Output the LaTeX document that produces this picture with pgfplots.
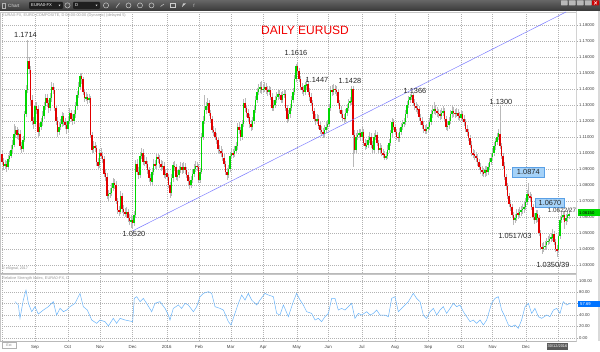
\documentclass[border=0pt]{standalone}
\usepackage{pgfplots}
\usepackage{pgfplotstable}
\pgfplotsset{compat=1.18}
\usepackage{fontspec}
\setmainfont{Liberation Sans}
\definecolor{upc}{RGB}{0,215,0}
\definecolor{dnc}{RGB}{225,0,0}
\definecolor{wick}{RGB}{185,185,185}
\definecolor{trend}{RGB}{125,125,255}
\definecolor{rsic}{RGB}{105,180,250}
\definecolor{boxblue}{RGB}{165,210,248}
\definecolor{boxedge}{RGB}{90,160,230}

\pgfplotstableread{
i o h l c
0 1.0990 1.1010 1.0920 1.0940
1 1.0940 1.0965 1.0895 1.0920
2 1.0920 1.0955 1.0900 1.0930
3 1.0930 1.0950 1.0880 1.0910
4 1.0910 1.0985 1.0895 1.0960
5 1.0960 1.1010 1.0940 1.0980
6 1.0980 1.1045 1.0965 1.1020
7 1.1020 1.1080 1.1000 1.1050
8 1.1050 1.1180 1.1035 1.1120
9 1.1120 1.1170 1.1095 1.1140
10 1.1140 1.1160 1.1085 1.1110
11 1.1110 1.1150 1.1080 1.1120
12 1.1120 1.1140 1.1020 1.1040
13 1.1040 1.1065 1.1000 1.1020
14 1.1020 1.1105 1.1005 1.1080
15 1.1080 1.1260 1.1065 1.1240
16 1.1240 1.1420 1.1225 1.1390
17 1.1390 1.1705 1.1370 1.1570
18 1.1570 1.1600 1.1490 1.1520
19 1.1520 1.1540 1.1300 1.1330
20 1.1330 1.1360 1.1170 1.1200
21 1.1200 1.1225 1.1150 1.1180
22 1.1180 1.1310 1.1160 1.1290
23 1.1290 1.1320 1.1240 1.1270
24 1.1270 1.1290 1.1100 1.1130
25 1.1130 1.1185 1.1105 1.1160
26 1.1160 1.1215 1.1140 1.1190
27 1.1190 1.1260 1.1170 1.1230
28 1.1230 1.1315 1.1210 1.1290
29 1.1290 1.1370 1.1270 1.1340
30 1.1340 1.1365 1.1285 1.1310
31 1.1310 1.1330 1.1250 1.1280
32 1.1280 1.1370 1.1260 1.1340
33 1.1340 1.1440 1.1320 1.1410
34 1.1410 1.1435 1.1365 1.1390
35 1.1390 1.1410 1.1260 1.1280
36 1.1280 1.1300 1.1175 1.1200
37 1.1200 1.1225 1.1095 1.1130
38 1.1130 1.1190 1.1110 1.1160
39 1.1160 1.1210 1.1140 1.1180
40 1.1180 1.1255 1.1160 1.1230
41 1.1230 1.1250 1.1170 1.1190
42 1.1190 1.1215 1.1145 1.1170
43 1.1170 1.1195 1.1120 1.1150
44 1.1150 1.1225 1.1130 1.1200
45 1.1200 1.1280 1.1180 1.1250
46 1.1250 1.1270 1.1190 1.1210
47 1.1210 1.1240 1.1175 1.1200
48 1.1200 1.1265 1.1180 1.1240
49 1.1240 1.1315 1.1220 1.1290
50 1.1290 1.1385 1.1270 1.1360
51 1.1360 1.1440 1.1340 1.1410
52 1.1410 1.1495 1.1390 1.1480
53 1.1480 1.1500 1.1430 1.1460
54 1.1460 1.1475 1.1360 1.1380
55 1.1380 1.1400 1.1315 1.1340
56 1.1340 1.1380 1.1320 1.1350
57 1.1350 1.1370 1.1305 1.1330
58 1.1330 1.1365 1.1310 1.1340
59 1.1340 1.1355 1.1090 1.1110
60 1.1110 1.1130 1.0995 1.1020
61 1.1020 1.1070 1.1000 1.1040
62 1.1040 1.1065 1.1005 1.1030
63 1.1030 1.1050 1.0915 1.0940
64 1.0940 1.0965 1.0895 1.0920
65 1.0920 1.1025 1.0905 1.1000
66 1.1000 1.1030 1.0960 1.0980
67 1.0980 1.1005 1.0935 1.0960
68 1.0960 1.0980 1.0850 1.0870
69 1.0870 1.0895 1.0825 1.0850
70 1.0850 1.0870 1.0710 1.0730
71 1.0730 1.0770 1.0700 1.0740
72 1.0740 1.0780 1.0715 1.0750
73 1.0750 1.0810 1.0730 1.0780
74 1.0780 1.0840 1.0760 1.0810
75 1.0810 1.0835 1.0775 1.0800
76 1.0800 1.0820 1.0680 1.0700
77 1.0700 1.0715 1.0615 1.0640
78 1.0640 1.0670 1.0605 1.0630
79 1.0630 1.0760 1.0615 1.0730
80 1.0730 1.0745 1.0625 1.0650
81 1.0650 1.0675 1.0605 1.0630
82 1.0630 1.0655 1.0595 1.0620
83 1.0620 1.0660 1.0600 1.0630
84 1.0630 1.0650 1.0570 1.0590
85 1.0590 1.0615 1.0545 1.0570
86 1.0570 1.0610 1.0527 1.0580
87 1.0580 1.0605 1.0530 1.0560
88 1.0560 1.0635 1.0540 1.0610
89 1.0610 1.0955 1.0590 1.0930
90 1.0930 1.0960 1.0860 1.0880
91 1.0880 1.0910 1.0835 1.0860
92 1.0860 1.1005 1.0840 1.0980
93 1.0980 1.1030 1.0960 1.1000
94 1.1000 1.1020 1.0920 1.0940
95 1.0940 1.0985 1.0915 1.0950
96 1.0950 1.0975 1.0905 1.0930
97 1.0930 1.0950 1.0870 1.0890
98 1.0890 1.0910 1.0820 1.0840
99 1.0840 1.0865 1.0795 1.0820
100 1.0820 1.0905 1.0800 1.0880
101 1.0880 1.0960 1.0860 1.0930
102 1.0930 1.0955 1.0895 1.0920
103 1.0920 1.0995 1.0900 1.0970
104 1.0970 1.1000 1.0935 1.0960
105 1.0960 1.0985 1.0905 1.0930
106 1.0930 1.0955 1.0885 1.0910
107 1.0910 1.0950 1.0890 1.0920
108 1.0920 1.0940 1.0840 1.0860
109 1.0860 1.0900 1.0835 1.0870
110 1.0870 1.0895 1.0825 1.0850
111 1.0850 1.0870 1.0780 1.0800
112 1.0800 1.0820 1.0715 1.0750
113 1.0750 1.0865 1.0730 1.0840
114 1.0840 1.0945 1.0820 1.0920
115 1.0920 1.0950 1.0885 1.0910
116 1.0910 1.0930 1.0830 1.0850
117 1.0850 1.0890 1.0825 1.0860
118 1.0860 1.0915 1.0840 1.0890
119 1.0890 1.0940 1.0870 1.0910
120 1.0910 1.0935 1.0865 1.0890
121 1.0890 1.0940 1.0870 1.0910
122 1.0910 1.0935 1.0865 1.0890
123 1.0890 1.0910 1.0840 1.0860
124 1.0860 1.0880 1.0800 1.0820
125 1.0820 1.0845 1.0775 1.0800
126 1.0800 1.0855 1.0780 1.0830
127 1.0830 1.0895 1.0810 1.0870
128 1.0870 1.0930 1.0850 1.0900
129 1.0900 1.0950 1.0880 1.0920
130 1.0920 1.0945 1.0885 1.0910
131 1.0910 1.0930 1.0810 1.0830
132 1.0830 1.0905 1.0810 1.0880
133 1.0880 1.1125 1.0865 1.1100
134 1.1100 1.1230 1.1080 1.1200
135 1.1200 1.1360 1.1180 1.1270
136 1.1270 1.1320 1.1240 1.1290
137 1.1290 1.1340 1.1265 1.1310
138 1.1310 1.1330 1.1230 1.1250
139 1.1250 1.1270 1.1185 1.1210
140 1.1210 1.1230 1.1120 1.1140
141 1.1140 1.1170 1.1105 1.1130
142 1.1130 1.1155 1.1080 1.1100
143 1.1100 1.1125 1.1055 1.1080
144 1.1080 1.1100 1.1000 1.1020
145 1.1020 1.1050 1.0990 1.1010
146 1.1010 1.1040 1.0975 1.1000
147 1.1000 1.1025 1.0950 1.0970
148 1.0970 1.0990 1.0910 1.0930
149 1.0930 1.0950 1.0860 1.0880
150 1.0880 1.0905 1.0830 1.0860
151 1.0860 1.0925 1.0840 1.0900
152 1.0900 1.1005 1.0880 1.0980
153 1.0980 1.1030 1.0960 1.1000
154 1.1000 1.1025 1.0965 1.0990
155 1.0990 1.1040 1.0970 1.1010
156 1.1010 1.1065 1.0990 1.1040
157 1.1040 1.1185 1.1020 1.1160
158 1.1160 1.1190 1.1115 1.1140
159 1.1140 1.1160 1.1075 1.1100
160 1.1100 1.1205 1.1080 1.1180
161 1.1180 1.1335 1.1160 1.1310
162 1.1310 1.1340 1.1255 1.1280
163 1.1280 1.1300 1.1225 1.1250
164 1.1250 1.1270 1.1195 1.1220
165 1.1220 1.1240 1.1155 1.1180
166 1.1180 1.1205 1.1135 1.1160
167 1.1160 1.1225 1.1140 1.1200
168 1.1200 1.1295 1.1180 1.1270
169 1.1270 1.1355 1.1250 1.1330
170 1.1330 1.1405 1.1310 1.1380
171 1.1380 1.1430 1.1360 1.1400
172 1.1400 1.1440 1.1375 1.1410
173 1.1410 1.1450 1.1365 1.1390
174 1.1390 1.1430 1.1370 1.1400
175 1.1400 1.1440 1.1380 1.1410
176 1.1410 1.1435 1.1370 1.1390
177 1.1390 1.1415 1.1355 1.1380
178 1.1380 1.1420 1.1360 1.1390
179 1.1390 1.1410 1.1330 1.1350
180 1.1350 1.1370 1.1260 1.1280
181 1.1280 1.1330 1.1260 1.1300
182 1.1300 1.1355 1.1280 1.1330
183 1.1330 1.1380 1.1310 1.1350
184 1.1350 1.1400 1.1330 1.1370
185 1.1370 1.1395 1.1335 1.1360
186 1.1360 1.1380 1.1310 1.1330
187 1.1330 1.1385 1.1310 1.1360
188 1.1360 1.1400 1.1340 1.1370
189 1.1370 1.1390 1.1260 1.1280
190 1.1280 1.1300 1.1185 1.1210
191 1.1210 1.1265 1.1190 1.1240
192 1.1240 1.1305 1.1220 1.1280
193 1.1280 1.1355 1.1260 1.1330
194 1.1330 1.1405 1.1310 1.1380
195 1.1380 1.1485 1.1360 1.1460
196 1.1460 1.1555 1.1440 1.1540
197 1.1540 1.1560 1.1485 1.1510
198 1.1510 1.1530 1.1440 1.1460
199 1.1460 1.1480 1.1390 1.1410
200 1.1410 1.1435 1.1365 1.1390
201 1.1390 1.1415 1.1355 1.1380
202 1.1380 1.1445 1.1360 1.1420
203 1.1420 1.1460 1.1400 1.1430
204 1.1430 1.1450 1.1360 1.1380
205 1.1380 1.1405 1.1325 1.1350
206 1.1350 1.1370 1.1290 1.1310
207 1.1310 1.1330 1.1240 1.1260
208 1.1260 1.1280 1.1190 1.1210
209 1.1210 1.1240 1.1175 1.1200
210 1.1200 1.1240 1.1180 1.1210
211 1.1210 1.1235 1.1150 1.1170
212 1.1170 1.1190 1.1115 1.1140
213 1.1140 1.1165 1.1105 1.1130
214 1.1130 1.1155 1.1095 1.1120
215 1.1120 1.1170 1.1100 1.1140
216 1.1140 1.1190 1.1120 1.1160
217 1.1160 1.1205 1.1140 1.1180
218 1.1180 1.1305 1.1160 1.1280
219 1.1280 1.1415 1.1260 1.1390
220 1.1390 1.1420 1.1355 1.1380
221 1.1380 1.1430 1.1360 1.1400
222 1.1400 1.1425 1.1365 1.1390
223 1.1390 1.1415 1.1355 1.1380
224 1.1380 1.1400 1.1290 1.1310
225 1.1310 1.1330 1.1250 1.1270
226 1.1270 1.1295 1.1215 1.1240
227 1.1240 1.1265 1.1195 1.1220
228 1.1220 1.1245 1.1185 1.1210
229 1.1210 1.1275 1.1190 1.1250
230 1.1250 1.1305 1.1230 1.1280
231 1.1280 1.1335 1.1260 1.1310
232 1.1310 1.1350 1.1290 1.1320
233 1.1320 1.1420 1.1300 1.1400
234 1.1400 1.1415 1.0910 1.1110
235 1.1110 1.1140 1.0990 1.1020
236 1.1020 1.1125 1.1000 1.1100
237 1.1100 1.1140 1.1080 1.1110
238 1.1110 1.1150 1.1090 1.1120
239 1.1120 1.1145 1.1075 1.1100
240 1.1100 1.1160 1.1080 1.1130
241 1.1130 1.1150 1.1040 1.1060
242 1.1060 1.1085 1.1015 1.1040
243 1.1040 1.1080 1.1020 1.1050
244 1.1050 1.1105 1.1030 1.1080
245 1.1080 1.1130 1.1060 1.1100
246 1.1100 1.1120 1.1030 1.1050
247 1.1050 1.1075 1.0995 1.1020
248 1.1020 1.1125 1.1000 1.1100
249 1.1100 1.1140 1.1080 1.1110
250 1.1110 1.1130 1.1040 1.1060
251 1.1060 1.1080 1.1000 1.1020
252 1.1020 1.1060 1.1000 1.1030
253 1.1030 1.1050 1.0980 1.1000
254 1.1000 1.1025 1.0965 1.0990
255 1.0990 1.1010 1.0955 1.0970
256 1.0970 1.1005 1.0955 1.0980
257 1.0980 1.1045 1.0960 1.1020
258 1.1020 1.1085 1.1000 1.1060
259 1.1060 1.1145 1.1040 1.1120
260 1.1120 1.1215 1.1100 1.1190
261 1.1190 1.1210 1.1140 1.1160
262 1.1160 1.1180 1.1110 1.1130
263 1.1130 1.1150 1.1080 1.1100
264 1.1100 1.1125 1.1065 1.1090
265 1.1090 1.1155 1.1070 1.1130
266 1.1130 1.1185 1.1110 1.1160
267 1.1160 1.1205 1.1140 1.1180
268 1.1180 1.1220 1.1160 1.1190
269 1.1190 1.1265 1.1170 1.1240
270 1.1240 1.1325 1.1220 1.1300
271 1.1300 1.1355 1.1280 1.1330
272 1.1330 1.1370 1.1310 1.1350
273 1.1350 1.1375 1.1330 1.1360
274 1.1360 1.1370 1.1290 1.1310
275 1.1310 1.1335 1.1265 1.1290
276 1.1290 1.1315 1.1255 1.1280
277 1.1280 1.1305 1.1245 1.1270
278 1.1270 1.1290 1.1200 1.1220
279 1.1220 1.1245 1.1175 1.1200
280 1.1200 1.1225 1.1150 1.1170
281 1.1170 1.1195 1.1125 1.1150
282 1.1150 1.1175 1.1115 1.1140
283 1.1140 1.1180 1.1115 1.1150
284 1.1150 1.1190 1.1125 1.1160
285 1.1160 1.1215 1.1140 1.1190
286 1.1190 1.1265 1.1170 1.1240
287 1.1240 1.1290 1.1220 1.1260
288 1.1260 1.1320 1.1240 1.1270
289 1.1270 1.1300 1.1235 1.1260
290 1.1260 1.1285 1.1225 1.1250
291 1.1250 1.1275 1.1215 1.1240
292 1.1240 1.1265 1.1205 1.1230
293 1.1230 1.1280 1.1210 1.1250
294 1.1250 1.1290 1.1230 1.1260
295 1.1260 1.1280 1.1190 1.1210
296 1.1210 1.1230 1.1140 1.1160
297 1.1160 1.1200 1.1135 1.1170
298 1.1170 1.1225 1.1150 1.1200
299 1.1200 1.1265 1.1180 1.1240
300 1.1240 1.1290 1.1220 1.1260
301 1.1260 1.1285 1.1225 1.1250
302 1.1250 1.1275 1.1215 1.1240
303 1.1240 1.1280 1.1220 1.1250
304 1.1250 1.1275 1.1205 1.1230
305 1.1230 1.1255 1.1195 1.1220
306 1.1220 1.1265 1.1200 1.1240
307 1.1240 1.1260 1.1190 1.1210
308 1.1210 1.1235 1.1165 1.1190
309 1.1190 1.1210 1.1130 1.1150
310 1.1150 1.1175 1.1105 1.1130
311 1.1130 1.1150 1.1070 1.1090
312 1.1090 1.1110 1.1030 1.1050
313 1.1050 1.1070 1.0980 1.1000
314 1.1000 1.1025 1.0965 1.0990
315 1.0990 1.1015 1.0955 1.0980
316 1.0980 1.1005 1.0945 1.0970
317 1.0970 1.0990 1.0920 1.0940
318 1.0940 1.0960 1.0890 1.0910
319 1.0910 1.0935 1.0865 1.0890
320 1.0890 1.0915 1.0855 1.0880
321 1.0880 1.0905 1.0845 1.0870
322 1.0870 1.0915 1.0850 1.0890
323 1.0890 1.0915 1.0855 1.0880
324 1.0880 1.0935 1.0860 1.0910
325 1.0910 1.0965 1.0890 1.0940
326 1.0940 1.0995 1.0920 1.0970
327 1.0970 1.1025 1.0950 1.1000
328 1.1000 1.1065 1.0980 1.1040
329 1.1040 1.1095 1.1020 1.1070
330 1.1070 1.1125 1.1050 1.1100
331 1.1100 1.1150 1.1080 1.1120
332 1.1120 1.1300 1.1020 1.1040
333 1.1040 1.1060 1.0960 1.0980
334 1.0980 1.1000 1.0900 1.0920
335 1.0920 1.0940 1.0830 1.0850
336 1.0850 1.0870 1.0770 1.0790
337 1.0790 1.0810 1.0710 1.0730
338 1.0730 1.0750 1.0660 1.0680
339 1.0680 1.0705 1.0635 1.0660
340 1.0660 1.0680 1.0590 1.0610
341 1.0610 1.0630 1.0545 1.0580
342 1.0580 1.0620 1.0560 1.0590
343 1.0590 1.0645 1.0570 1.0620
344 1.0620 1.0650 1.0585 1.0610
345 1.0610 1.0660 1.0590 1.0630
346 1.0630 1.0670 1.0605 1.0640
347 1.0640 1.0680 1.0615 1.0650
348 1.0650 1.0690 1.0625 1.0660
349 1.0660 1.0715 1.0640 1.0690
350 1.0690 1.0765 1.0670 1.0740
351 1.0740 1.0810 1.0705 1.0730
352 1.0730 1.0755 1.0695 1.0720
353 1.0720 1.0740 1.0640 1.0660
354 1.0660 1.0680 1.0580 1.0600
355 1.0600 1.0625 1.0555 1.0580
356 1.0580 1.0645 1.0560 1.0620
357 1.0620 1.0640 1.0570 1.0590
358 1.0590 1.0610 1.0480 1.0500
359 1.0500 1.0520 1.0390 1.0410
360 1.0410 1.0435 1.0370 1.0400
361 1.0400 1.0440 1.0380 1.0410
362 1.0410 1.0450 1.0390 1.0420
363 1.0420 1.0465 1.0400 1.0440
364 1.0440 1.0480 1.0420 1.0450
365 1.0450 1.0490 1.0430 1.0460
366 1.0460 1.0500 1.0440 1.0470
367 1.0470 1.0520 1.0450 1.0490
368 1.0490 1.0510 1.0420 1.0440
369 1.0440 1.0460 1.0380 1.0400
370 1.0400 1.0425 1.0345 1.0390
371 1.0390 1.0505 1.0370 1.0480
372 1.0480 1.0605 1.0460 1.0580
373 1.0580 1.0630 1.0560 1.0600
374 1.0600 1.0635 1.0580 1.0610
375 1.0610 1.0630 1.0520 1.0570
376 1.0570 1.0620 1.0550 1.0590
377 1.0590 1.0640 1.0570 1.0610
378 1.0610 1.0645 1.0585 1.0615
}\ohlc

\pgfplotstableread{
i v
8.7 63.4
10.9 57.6
12 34.3
14.2 66.3
16 83.7
17.6 60.5
19.8 45.9
22 54.7
24.2 41.9
27.6 48.8
30.9 54.7
34.2 63.4
36.4 40.1
38.7 51.7
40.9 45.9
43.1 48.8
45.3 54.7
48.7 60.5
52 77.9
54.2 54.7
56.9 48.8
59.8 31.4
63.1 25.6
65.3 31.4
68.7 28.5
70.9 20.9
74.2 34.3
76.4 25.6
78.7 34.3
82 31.4
84.2 30.2
87.1 28.5
88.2 69.2
89.8 72.1
92 63.4
94.2 69.2
96.4 60.5
99.8 45.9
102 60.5
105.3 63.4
108.7 51.7
110.9 40.1
112 31.4
114.2 51.7
117.6 57.6
119.8 51.7
122 60.5
124.2 57.6
127.6 45.9
129.8 54.7
132 72.1
134.2 77.9
137.6 80.8
139.8 77.9
142 54.7
145.3 51.7
147.6 48.8
150.9 28.5
152.7 22.7
155.3 43
157.6 60.5
159.8 75
162 66.3
164.2 77.9
166.4 66.3
169.8 57.6
172 66.3
175.3 77.9
177.6 75
180.9 72.1
183.1 43
185.3 40.1
187.6 57.6
190.9 37.2
194.2 63.4
196.4 77.9
198.7 66.3
200.9 57.6
203.1 45.9
206.4 43
208.7 31.4
210.9 34.3
213.1 28.5
215.3 37.2
217.6 43
219.8 69.2
222 69.2
224.2 48.8
226.4 51.7
228.7 48.8
230.9 54.7
233.1 60.5
235.3 34.3
237.6 43
239.8 40.1
243.1 45.9
245.3 40.1
247.6 43
249.8 48.8
252 40.1
255.3 40.1
257.6 37.2
259.8 69.2
262 72.1
264.2 45.9
266.4 51.7
268.7 57.6
270.9 63.4
274.2 77.9
276.4 69.2
278.7 63.4
280.9 40.1
283.1 34.3
285.3 45.9
287.6 51.7
289.8 40.1
292 48.8
294.2 54.7
296.4 43
298.7 51.7
300.9 60.5
303.1 54.7
305.3 57.6
307.6 45.9
309.8 37.2
312 28.5
314.2 31.4
316.4 25.6
318.7 31.4
320.9 22.7
323.1 31.4
326.4 60.5
328.7 69.2
330.9 72.1
333.1 48.8
335.3 37.2
337.6 22.7
339.8 19.8
342 22.7
344.2 16.9
346.4 31.4
348.7 54.7
350.9 60.5
353.1 43
355.3 51.7
357.6 37.2
359.8 34.3
363.1 40.1
365.3 37.2
367.6 48.8
369.8 51.7
372 43
374.2 63.4
376.4 57.6
378.7 60.5
}\rsi

\begin{document}
\begin{tikzpicture}[x=1pt,y=1pt]
\fill[white] (0,0) rectangle (600,351);

% ---------- main price panel ----------
\begin{axis}[
  at={(0pt,78pt)}, anchor=south west, scale only axis,
  width=576pt, height=261pt,
  xmin=-1.3333, xmax=382.6667, ymin=1.0248125, ymax=1.1879375,
  axis line style={gray!45, line width=0.4pt},
  xtick={0.33,22,43.8,65.3,87.1,109.8,131.3,152.5,174.2,196.5,217.5,239.8,262,284.2,305.8,327.1,349.3,370.9},
  xticklabels={}, x tick style={draw=none},
  ytick={1.03,1.04,1.05,1.06,1.07,1.08,1.09,1.10,1.11,1.12,1.13,1.14,1.15,1.16,1.17,1.18},
  scaled y ticks=false,
  yticklabel pos=right, ytick pos=right,
  y tick style={gray!70, line width=0.3pt}, major tick length=2pt, tick align=outside,
  yticklabel style={font=\fontsize{4.2}{5}\selectfont, text=black!75, inner sep=1pt,
    /pgf/number format/fixed, /pgf/number format/fixed zerofill,
    /pgf/number format/precision=5, /pgf/number format/assume math mode=true},
  grid=major, major grid style={gray!60, line width=0.35pt, dash pattern=on 1pt off 1pt},
]
% wicks
\addplot[draw=none, forget plot, error bars/.cd, y dir=both, y explicit, error mark=none,
  error bar style={draw=wick, solid, line width=0.6pt}]
  table[x=i, y expr={(\thisrow{h}+\thisrow{l})/2}, y error expr={(\thisrow{h}-\thisrow{l})/2}] {\ohlc};
% up bodies
\addplot[draw=none, forget plot, restrict expr to domain={\thisrow{c}-\thisrow{o}}{0:1},
  error bars/.cd, y dir=both, y explicit, error mark=none,
  error bar style={draw=upc, solid, line width=1.15pt}]
  table[x=i, y expr={(\thisrow{o}+\thisrow{c})/2}, y error expr={max(abs(\thisrow{c}-\thisrow{o})/2,0.00025)}] {\ohlc};
% down bodies
\addplot[draw=none, forget plot, restrict expr to domain={\thisrow{c}-\thisrow{o}}{-1:-0.00001},
  error bars/.cd, y dir=both, y explicit, error mark=none,
  error bar style={draw=dnc, solid, line width=1.15pt}]
  table[x=i, y expr={(\thisrow{o}+\thisrow{c})/2}, y error expr={max(abs(\thisrow{c}-\thisrow{o})/2,0.00025)}] {\ohlc};
% trend line
\addplot[trend, line width=0.5pt, forget plot] coordinates {(87.3,1.05125) (376,1.18794)};
\end{axis}

% ---------- RSI panel ----------
\begin{axis}[
  at={(0pt,10pt)}, anchor=south west, scale only axis,
  width=576pt, height=67pt,
  xmin=-1.3333, xmax=382.6667, ymin=-5.24, ymax=111.7,
  axis line style={gray!45, line width=0.4pt},
  xtick={0.33,22,43.8,65.3,87.1,109.8,131.3,152.5,174.2,196.5,217.5,239.8,262,284.2,305.8,327.1,349.3,370.9},
  xticklabels={,Sep,Oct,Nov,Dec,2016,Feb,Mar,Apr,May,Jun,Jul,Aug,Sep,Oct,Nov,Dec,},
  x tick style={draw=none},
  xticklabel style={font=\fontsize{4.4}{5}\selectfont, text=black!75, inner sep=0pt, anchor=center, yshift=-4pt},
  ytick={0,20,40,60,80,100},
  yticklabel pos=right, ytick pos=right,
  y tick style={gray!70, line width=0.3pt}, major tick length=2pt, tick align=outside,
  yticklabel style={font=\fontsize{4.2}{5}\selectfont, text=black!75, inner sep=1pt,
    /pgf/number format/fixed, /pgf/number format/fixed zerofill,
    /pgf/number format/precision=2, /pgf/number format/assume math mode=true},
  grid=major, major grid style={gray!60, line width=0.35pt, dash pattern=on 1pt off 1pt},
]
\addplot[rsic, line width=0.5pt, forget plot] table[x=i, y=v] {\rsi};
\end{axis}

% ---------- frame pieces ----------
\draw[gray!55, line width=0.8pt] (0,77.5) -- (576,77.5);
\draw[gray!35, line width=1.4pt] (576.7,10) -- (576.7,340);
\fill[gray!30] (598,10) rectangle (600,340);
\draw[gray!55, line width=0.5pt] (0,10) -- (576,10);

% ---------- toolbar ----------
\shade[top color=black!60, bottom color=black!78] (0,340) rectangle (600,351);
\node[font=\fontsize{4.6}{5}\selectfont, text=white!85!black, anchor=west, inner sep=0pt] at (8,345.5) {Chart};
\draw[white!70!black, line width=0.4pt] (2,343) rectangle (5.5,348);
\fill[black!88, rounded corners=0.8pt] (29,342.2) rectangle (63,349);
\node[font=\fontsize{4.2}{5}\selectfont, text=white, anchor=west, inner sep=0pt] at (31,345.6) {EURA0-FX};
\fill[white!80!black] (58.5,346.3) -- (60.5,346.3) -- (59.5,344.8) -- cycle;
\draw[white!80!black, line width=0.5pt] (67.5,345.6) circle (2.6pt);
\fill[black!88, rounded corners=0.8pt] (73,342.2) rectangle (100,349);
\node[font=\fontsize{4.2}{5}\selectfont, text=white, anchor=west, inner sep=0pt] at (75,345.6) {D};
\fill[white!80!black] (95.5,346.3) -- (97.5,346.3) -- (96.5,344.8) -- cycle;
\draw[white!80!black, line width=0.5pt] (106,345.6) circle (2.6pt);
\draw[white!80!black, line width=0.5pt] (116,343.3) -- (119.5,348);
\draw[white!80!black, line width=0.5pt] (128.5,345.6) circle (2.5pt);
\draw[white!80!black, line width=0.5pt] (140,345.6) circle (2.5pt);
\draw[white!80!black, line width=0.5pt] (151.5,345.6) circle (2.5pt);
\draw[white!80!black, line width=0.5pt] (160.5,344.5) -- (164,347);
\draw[white!80!black, line width=0.5pt] (170.5,343.5) rectangle (175,347.8);
\fill[white!80!black] (182,344) -- (186,347.5) -- (183,347.5) -- cycle;
\node[font=\fontsize{4.6}{5}\selectfont, text=white!80!black, inner sep=0pt] at (194,345.6) {f};
\foreach \bx in {561,569,577,585}{\fill[gray!55, rounded corners=0.5pt] (\bx,345.6) rectangle ++(6.5,5);}
\fill[red!80!black, rounded corners=0.5pt] (592,345.6) rectangle (599,350.6);
\draw[white, line width=0.5pt] (594,346.6) -- (597,349.6) (594,349.6) -- (597,346.6);

% ---------- small panel texts ----------
\node[font=\fontsize{3.9}{4.5}\selectfont, text=black!40, anchor=west, inner sep=0pt] at (2,336)
  {EURA0-FX, EURO COMPOSITE, D 00:00-00:00 (Dynamic) (delayed 5)};
\node[font=\fontsize{3.6}{4.5}\selectfont, text=black!45, anchor=west, inner sep=0pt] at (2,82)
  {\textcopyright\ eSignal, 2017};
\node[font=\fontsize{3.9}{4.5}\selectfont, text=black!40, anchor=west, inner sep=0pt] at (2,73)
  {Relative Strength Index, EURA0-FX, D};

% ---------- annotations ----------
\node[font=\fontsize{12}{14}\selectfont, text=red!95!black, inner sep=0pt] at (305,321) {DAILY EURUSD};
\begin{scope}[every node/.style={font=\fontsize{7.4}{9}\selectfont, text=black!85, inner sep=0pt}]
\node at (25.5,316.5) {1.1714};
\node at (296,298.5) {1.1616};
\node at (317,270.7) {1.1447};
\node at (350,270) {1.1428};
\node at (415,260) {1.1366};
\node at (501,248.7) {1.1300};
\node at (134,117.3) {1.0520};
\node at (515,115) {1.0517/03};
\node at (553,86.5) {1.0350/39};
\end{scope}
\fill[boxblue] (512.5,173.8) rectangle (544,183.6);
\draw[boxedge, line width=0.4pt] (512.5,173.8) rectangle (544,183.6);
\node[font=\fontsize{7.4}{9}\selectfont, text=black!85, inner sep=0pt] at (528.3,178.7) {1.0874};
\fill[boxblue] (535,143.7) rectangle (564.5,152.7);
\draw[boxedge, line width=0.4pt] (535,143.7) rectangle (564.5,152.7);
\node[font=\fontsize{7.4}{9}\selectfont, text=black!85, inner sep=0pt] at (550,148.2) {1.0670};
\node[font=\fontsize{6.3}{8}\selectfont, text=black!80, inner sep=0pt] at (562,140.3) {1.0622/27};

% ---------- right-axis markers ----------
\fill[green!85!black] (577.5,135) rectangle (600,141.5);
\node[font=\fontsize{4.2}{5}\selectfont, text=black, anchor=west, inner sep=0pt] at (579,138.2) {1.06150};
\fill[blue!55!cyan] (577.5,44.3) rectangle (600,50.3);
\node[font=\fontsize{4.2}{5}\selectfont, text=white, anchor=west, inner sep=0pt] at (580,47.3) {57.69};
\fill[black!65] (547,1) rectangle (568,8);
\node[font=\fontsize{3.9}{4.5}\selectfont, text=white, inner sep=0pt] at (557.5,4.5) {30/12/2016};
\draw[gray!60, line width=0.4pt] (2,2.5) rectangle (16,8.5);
\node[font=\fontsize{3.5}{4}\selectfont, text=black!50, inner sep=0pt] at (9,5.5) {Ext};

\pgfresetboundingbox
\useasboundingbox (0,0) rectangle (600,351);
\end{tikzpicture}
\end{document}
